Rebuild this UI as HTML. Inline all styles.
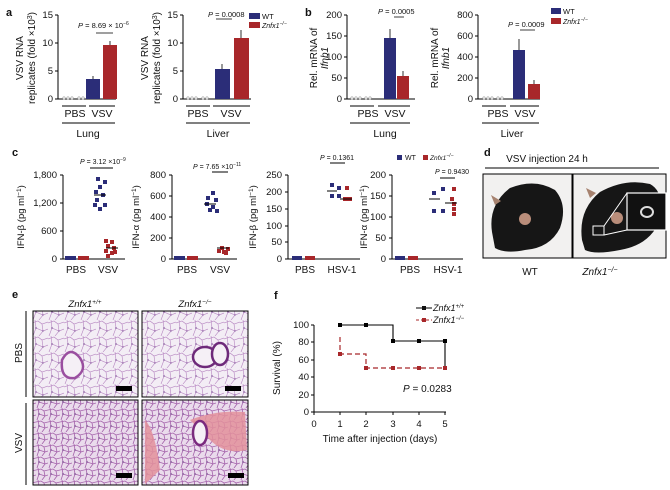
<!DOCTYPE html>
<html><head><meta charset="utf-8"><style>
body{margin:0;background:#fff}
svg{display:block;font-family:"Liberation Sans",Arial,sans-serif}
</style></head><body>
<svg width="670" height="490" viewBox="0 0 670 490" xmlns="http://www.w3.org/2000/svg">
<defs>
<pattern id="lung" width="16" height="16" patternUnits="userSpaceOnUse">
<rect width="16" height="16" fill="#f3edf5"/>
<path d="M0 3 L6 1 L10 4 L16 2 M3 0 L4 8 L1 16 M10 4 L11 11 L7 16 M4 8 L11 11 L16 9" stroke="#b583c0" stroke-width="0.6" fill="none"/>
<circle cx="4" cy="8" r="0.7" fill="#6a3a88"/><circle cx="11" cy="11" r="0.6" fill="#6a3a88"/>
</pattern>
<pattern id="lung2" width="12" height="12" patternUnits="userSpaceOnUse">
<rect width="12" height="12" fill="#eadbec"/>
<path d="M0 2 L5 1 L8 3 L12 2 M2 0 L3 6 L1 12 M8 3 L9 8 L6 12 M3 6 L9 8 L12 7" stroke="#a462ab" stroke-width="0.8" fill="none"/>
<circle cx="3" cy="6" r="0.7" fill="#5a2a78"/>
</pattern>
</defs>
<g font-size="10" fill="#111">
<!-- ===== Panel a ===== -->
<text x="6" y="16" font-weight="bold" font-size="11">a</text>
<g stroke="#000" stroke-width="1" fill="none">
<path d="M58 15 V99 H116"/><path d="M55 15H58M55 43H58M55 71H58M55 99H58"/>
<path d="M183 15 V99 H251"/><path d="M180 15H183M180 43H183M180 71H183M180 99H183"/>
<path d="M62 106H86M89 106H115M62 123H115"/>
<path d="M186 106H210M213 106H250M186 123H250"/>
</g>
<g font-size="9.5" text-anchor="end"><text x="53" y="18">15</text><text x="53" y="46">10</text><text x="53" y="74">5</text><text x="53" y="102">0</text>
<text x="178" y="18">15</text><text x="178" y="46">10</text><text x="178" y="74">5</text><text x="178" y="102">0</text></g>
<rect x="86" y="79" width="14" height="20" fill="#2b2d78"/><rect x="103" y="45" width="14" height="54" fill="#a8272a"/>
<rect x="215" y="69" width="15" height="30" fill="#2b2d78"/><rect x="234" y="38" width="15" height="61" fill="#a8272a"/>
<g stroke="#000" stroke-width="0.8"><path d="M93 79V76M110 45V41M222 69V64M241 38V30"/></g>
<g fill="#ddd" stroke="#999" stroke-width="0.4"><circle cx="64" cy="98" r="1.4"/><circle cx="68" cy="98" r="1.4"/><circle cx="72" cy="98" r="1.4"/><circle cx="79" cy="98" r="1.4"/><circle cx="83" cy="98" r="1.4"/>
<circle cx="188" cy="98" r="1.4"/><circle cx="192" cy="98" r="1.4"/><circle cx="196" cy="98" r="1.4"/><circle cx="203" cy="98" r="1.4"/><circle cx="207" cy="98" r="1.4"/></g>
<g font-size="10.5" text-anchor="middle"><text x="75" y="117">PBS</text><text x="102" y="117">VSV</text><text x="88" y="137">Lung</text>
<text x="198" y="117">PBS</text><text x="231" y="117">VSV</text><text x="218" y="137">Liver</text></g>
<text transform="translate(23,58) rotate(-90)" text-anchor="middle" font-size="10">VSV RNA</text>
<text transform="translate(35,58) rotate(-90)" text-anchor="middle" font-size="10">replicates (fold ×10<tspan dy="-3" font-size="7">3</tspan><tspan dy="3">)</tspan></text>
<text transform="translate(148,58) rotate(-90)" text-anchor="middle" font-size="10">VSV RNA</text>
<text transform="translate(160,58) rotate(-90)" text-anchor="middle" font-size="10">replicates (fold ×10<tspan dy="-3" font-size="7">3</tspan><tspan dy="3">)</tspan></text>
<text x="78" y="28" font-size="7.5"><tspan font-style="italic">P</tspan> = 8.69 × 10<tspan dy="-3" font-size="5">−6</tspan></text>
<path d="M96 33H113M216 19H232" stroke="#000" stroke-width="0.8"/>
<text x="208" y="17" font-size="7.5"><tspan font-style="italic">P</tspan> = 0.0008</text>
<rect x="249" y="13" width="11" height="6" fill="#2b2d78"/><text x="262" y="19" font-size="7.5">WT</text>
<rect x="249" y="22" width="11" height="6" fill="#a8272a"/><text x="262" y="28" font-size="7" font-style="italic">Znfx1<tspan dy="-3" font-size="5">−/−</tspan></text>

<!-- ===== Panel b ===== -->
<text x="305" y="16" font-weight="bold" font-size="11">b</text>
<g stroke="#000" stroke-width="1" fill="none">
<path d="M347 15V99H415"/><path d="M344 15H347M344 36H347M344 57H347M344 78H347M344 99H347"/>
<path d="M478 15V99H540"/><path d="M475 15H478M475 36H478M475 57H478M475 78H478M475 99H478"/>
<path d="M350 106H374M378 106H410M350 123H410"/>
<path d="M482 106H506M510 106H539M482 123H539"/>
</g>
<g font-size="9.5" text-anchor="end"><text x="342" y="18">200</text><text x="342" y="39">150</text><text x="342" y="60">100</text><text x="342" y="81">50</text><text x="342" y="102">0</text>
<text x="473" y="18">800</text><text x="473" y="39">600</text><text x="473" y="60">400</text><text x="473" y="81">200</text><text x="473" y="102">0</text></g>
<rect x="384" y="38" width="12" height="61" fill="#2b2d78"/><rect x="397" y="76" width="12" height="23" fill="#a8272a"/>
<rect x="513" y="50" width="12" height="49" fill="#2b2d78"/><rect x="528" y="84" width="12" height="15" fill="#a8272a"/>
<g stroke="#000" stroke-width="0.8"><path d="M390 38V29M403 76V71M519 50V39M534 84V80"/></g>
<g fill="#ddd" stroke="#999" stroke-width="0.4"><circle cx="352" cy="98" r="1.4"/><circle cx="356" cy="98" r="1.4"/><circle cx="360" cy="98" r="1.4"/><circle cx="366" cy="98" r="1.4"/><circle cx="370" cy="98" r="1.4"/>
<circle cx="484" cy="98" r="1.4"/><circle cx="488" cy="98" r="1.4"/><circle cx="492" cy="98" r="1.4"/><circle cx="498" cy="98" r="1.4"/><circle cx="502" cy="98" r="1.4"/></g>
<g font-size="10.5" text-anchor="middle"><text x="368" y="117">PBS</text><text x="395" y="117">VSV</text><text x="385" y="137">Lung</text>
<text x="498" y="117">PBS</text><text x="525" y="117">VSV</text><text x="512" y="137">Liver</text></g>
<text transform="translate(317,58) rotate(-90)" text-anchor="middle">Rel. mRNA of</text>
<text transform="translate(328,58) rotate(-90)" text-anchor="middle" font-style="italic">Ifnb1</text>
<text transform="translate(438,58) rotate(-90)" text-anchor="middle">Rel. mRNA of</text>
<text transform="translate(449,58) rotate(-90)" text-anchor="middle" font-style="italic">Ifnb1</text>
<text x="378" y="14" font-size="7.5"><tspan font-style="italic">P</tspan> = 0.0005</text>
<text x="508" y="27" font-size="7.5"><tspan font-style="italic">P</tspan> = 0.0009</text>
<path d="M394 17H404M520 30H535" stroke="#000" stroke-width="0.8"/>
<rect x="551" y="8" width="10" height="6" fill="#2b2d78"/><text x="563" y="14" font-size="7.5">WT</text>
<rect x="551" y="18" width="10" height="6" fill="#a8272a"/><text x="563" y="24" font-size="7" font-style="italic">Znfx1<tspan dy="-3" font-size="5">−/−</tspan></text>

<!-- ===== Panel c ===== -->
<text x="12" y="156" font-weight="bold" font-size="11">c</text>
<g stroke="#000" stroke-width="1" fill="none">
<path d="M63 175V259H125"/><path d="M60 175H63M60 203H63M60 231H63M60 259H63"/>
<path d="M172 175V259H237"/><path d="M169 175H172M169 196H172M169 217H172M169 238H172M169 259H172"/>
<path d="M288 175V259H360"/><path d="M285 175H288M285 192H288M285 209H288M285 226H288M285 242H288M285 259H288"/>
<path d="M392 175V259H463"/><path d="M389 175H392M389 196H392M389 217H392M389 238H392M389 259H392"/>
</g>
<g font-size="9.5" text-anchor="end">
<text x="57" y="178">1,800</text><text x="57" y="206">1,200</text><text x="57" y="234">600</text><text x="57" y="262">0</text>
<text x="166" y="178">800</text><text x="166" y="199">600</text><text x="166" y="220">400</text><text x="166" y="241">200</text><text x="166" y="262">0</text>
<text x="282" y="178">250</text><text x="282" y="195">200</text><text x="282" y="212">150</text><text x="282" y="229">100</text><text x="282" y="245">50</text><text x="282" y="262">0</text>
<text x="386" y="178">200</text><text x="386" y="199">150</text><text x="386" y="220">100</text><text x="386" y="241">50</text><text x="386" y="262">0</text></g>
<g font-size="10" text-anchor="middle"><text x="76" y="273">PBS</text><text x="108" y="273">VSV</text>
<text x="187" y="273">PBS</text><text x="220" y="273">VSV</text>
<text x="305" y="273">PBS</text><text x="342" y="273">HSV-1</text>
<text x="410" y="273">PBS</text><text x="448" y="273">HSV-1</text></g>
<g font-size="9.5" text-anchor="middle">
<text transform="translate(24,217) rotate(-90)">IFN-β (pg ml<tspan dy="-3" font-size="6.5">−1</tspan><tspan dy="3">)</tspan></text>
<text transform="translate(139,217) rotate(-90)">IFN-α (pg ml<tspan dy="-3" font-size="6.5">−1</tspan><tspan dy="3">)</tspan></text>
<text transform="translate(256,217) rotate(-90)">IFN-β (pg ml<tspan dy="-3" font-size="6.5">−1</tspan><tspan dy="3">)</tspan></text>
<text transform="translate(367,217) rotate(-90)">IFN-α (pg ml<tspan dy="-3" font-size="6.5">−1</tspan><tspan dy="3">)</tspan></text></g>
<g fill="#2b2d78">
<rect x="65" y="256" width="11" height="4"/><rect x="174" y="256" width="11" height="4"/><rect x="292" y="256" width="10" height="4"/><rect x="395" y="256" width="10" height="4"/>
<rect x="96" y="177" width="4" height="4"/><rect x="103" y="180" width="4" height="4"/><rect x="98" y="185" width="4" height="4"/><rect x="94" y="190" width="4" height="4"/><rect x="101" y="193" width="4" height="4"/><rect x="95" y="198" width="4" height="4"/><rect x="103" y="203" width="4" height="4"/><rect x="98" y="207" width="4" height="4"/><rect x="93" y="203" width="4" height="4"/>
<rect x="211" y="191" width="4" height="4"/><rect x="206" y="196" width="4" height="4"/><rect x="214" y="198" width="4" height="4"/><rect x="205" y="202" width="4" height="4"/><rect x="211" y="205" width="4" height="4"/><rect x="208" y="208" width="4" height="4"/><rect x="215" y="209" width="4" height="4"/>
<rect x="330" y="183" width="4" height="4"/><rect x="337" y="186" width="4" height="4"/><rect x="330" y="194" width="4" height="4"/><rect x="337" y="194" width="4" height="4"/>
<rect x="432" y="191" width="4" height="4"/><rect x="441" y="187" width="4" height="4"/><rect x="432" y="209" width="4" height="4"/><rect x="441" y="209" width="4" height="4"/>
</g>
<g fill="#a8272a">
<rect x="78" y="256" width="11" height="4"/><rect x="187" y="256" width="11" height="4"/><rect x="305" y="256" width="10" height="4"/><rect x="408" y="256" width="10" height="4"/>
<rect x="104" y="239" width="4" height="4"/><rect x="110" y="240" width="4" height="4"/><rect x="106" y="244" width="4" height="4"/><rect x="112" y="246" width="4" height="4"/><rect x="104" y="249" width="4" height="4"/><rect x="110" y="251" width="4" height="4"/><rect x="106" y="254" width="4" height="4"/><rect x="113" y="250" width="4" height="4"/>
<rect x="220" y="246" width="4" height="4"/><rect x="226" y="247" width="4" height="4"/><rect x="222" y="250" width="4" height="4"/><rect x="217" y="249" width="4" height="4"/><rect x="224" y="251" width="4" height="4"/>
<rect x="345" y="186" width="4" height="4"/><rect x="343" y="197" width="4" height="4"/><rect x="348" y="197" width="4" height="4"/><rect x="345" y="197" width="4" height="4"/>
<rect x="452" y="187" width="4" height="4"/><rect x="450" y="197" width="4" height="4"/><rect x="452" y="202" width="4" height="4"/><rect x="452" y="207" width="4" height="4"/><rect x="452" y="212" width="4" height="4"/>
</g>
<g stroke="#000" stroke-width="0.9"><path d="M94 195H106M106 248H118M204 204H216M217 248H229M327 191H337M340 199H352M429 199H440M445 203H457"/>
<path d="M90 168H113M212 172H228M330 163H345M440 178H455"/></g>
<g font-size="7"><text x="80" y="164"><tspan font-style="italic">P</tspan> = 3.12 ×10<tspan dy="-3" font-size="5">−9</tspan></text>
<text x="193" y="169"><tspan font-style="italic">P</tspan> = 7.65 ×10<tspan dy="-3" font-size="5">−11</tspan></text>
<text x="320" y="160"><tspan font-style="italic">P</tspan> = 0.1361</text>
<text x="435" y="174"><tspan font-style="italic">P</tspan> = 0.9430</text></g>
<rect x="397" y="155" width="5" height="5" fill="#2b2d78"/><text x="405" y="160" font-size="7">WT</text>
<rect x="423" y="155" width="5" height="5" fill="#a8272a"/><text x="430" y="160" font-size="6.5" font-style="italic">Znfx1<tspan dy="-3" font-size="5">−/−</tspan></text>

<!-- ===== Panel d ===== -->
<text x="484" y="156" font-weight="bold" font-size="11">d</text>
<text x="547" y="162" text-anchor="middle" font-size="10">VSV injection 24 h</text>
<path d="M485 168H659" stroke="#000"/>
<rect x="483" y="174" width="89" height="84" fill="#f2f1f0" stroke="#000"/>
<rect x="573" y="174" width="93" height="84" fill="#f1f0ef" stroke="#000"/>
<path d="M492 232 Q488 205 510 188 Q535 178 555 190 Q568 205 560 228 Q550 248 525 250 Q505 254 495 248Z" fill="#161616"/>
<circle cx="525" cy="219" r="6" fill="#b98d7a"/><path d="M495 205 l-4 -10 l10 6Z" fill="#a6826f"/>
<path d="M582 240 Q578 210 600 192 Q625 178 650 184 Q665 192 660 220 Q650 245 620 250 Q595 255 585 250Z" fill="#161616"/>
<circle cx="617" cy="218" r="6" fill="#b98d7a"/><path d="M590 198 l-4 -10 l10 5Z" fill="#a6826f"/>
<rect x="593" y="226" width="11" height="9" fill="none" stroke="#fff" stroke-width="1"/>
<rect x="627" y="193" width="39" height="37" fill="#111" stroke="#fff" stroke-width="1.2"/>
<ellipse cx="647" cy="212" rx="6" ry="5" fill="none" stroke="#ddd" stroke-width="2"/>
<path d="M604 226L627 193M604 235L627 230" stroke="#fff" stroke-width="1"/>
<text x="530" y="275" text-anchor="middle">WT</text>
<text x="600" y="275" text-anchor="middle" font-style="italic">Znfx1<tspan dy="-3" font-size="7">−/−</tspan></text>

<!-- ===== Panel e ===== -->
<text x="12" y="298" font-weight="bold" font-size="11">e</text>
<text x="85" y="307" text-anchor="middle" font-style="italic" font-size="9.5">Znfx1<tspan dy="-3" font-size="6.5">+/+</tspan></text>
<text x="195" y="307" text-anchor="middle" font-style="italic" font-size="9.5">Znfx1<tspan dy="-3" font-size="6.5">−/−</tspan></text>
<rect x="33" y="311" width="105" height="86" fill="url(#lung)" stroke="#000"/>
<rect x="142" y="311" width="106" height="86" fill="url(#lung)" stroke="#000"/>
<rect x="33" y="400" width="105" height="85" fill="url(#lung2)" stroke="#000"/>
<rect x="142" y="400" width="106" height="85" fill="url(#lung2)" stroke="#000"/>
<path d="M62 360 Q70 345 80 358 Q88 370 75 378 Q60 380 62 360Z" fill="#f5f0f6" stroke="#9a4fa0" stroke-width="2.5"/>
<ellipse cx="205" cy="357" rx="12" ry="10" fill="#f5f0f6" stroke="#6e2a7a" stroke-width="2.5"/><ellipse cx="220" cy="354" rx="8" ry="11" fill="#f5f0f6" stroke="#6e2a7a" stroke-width="2.5"/>
<path d="M190 420 Q215 410 245 412 L247 450 Q225 455 210 440Z" fill="#e3909b" opacity="0.85"/>
<path d="M145 420 Q155 430 160 470 L145 484Z" fill="#e3909b" opacity="0.85"/>
<ellipse cx="200" cy="433" rx="7" ry="12" fill="#f5f0f6" stroke="#7a2a7e" stroke-width="2.5"/>
<rect x="116" y="386" width="16" height="5" fill="#000"/><rect x="225" y="386" width="16" height="5" fill="#000"/>
<rect x="116" y="473" width="16" height="5" fill="#000"/><rect x="228" y="473" width="16" height="5" fill="#000"/>
<path d="M26 311V397M26 403V485" stroke="#000"/>
<text transform="translate(22,353) rotate(-90)" text-anchor="middle">PBS</text>
<text transform="translate(22,443) rotate(-90)" text-anchor="middle">VSV</text>

<!-- ===== Panel f ===== -->
<text x="274" y="299" font-weight="bold" font-size="11">f</text>
<g stroke="#000" stroke-width="1" fill="none">
<path d="M314 325V412H446"/>
<path d="M311 325H314M311 342H314M311 360H314M311 377H314M311 395H314M311 412H314"/>
<path d="M314 412V415M340 412V415M366 412V415M393 412V415M419 412V415M445 412V415"/>
</g>
<g font-size="9.5" text-anchor="end"><text x="309" y="328">100</text><text x="309" y="345">80</text><text x="309" y="363">60</text><text x="309" y="380">40</text><text x="309" y="398">20</text><text x="309" y="415">0</text></g>
<g font-size="9.5" text-anchor="middle"><text x="314" y="427">0</text><text x="340" y="427">1</text><text x="366" y="427">2</text><text x="393" y="427">3</text><text x="419" y="427">4</text><text x="445" y="427">5</text></g>
<text x="380" y="442" text-anchor="middle">Time after injection (days)</text>
<text transform="translate(280,368) rotate(-90)" text-anchor="middle">Survival (%)</text>
<path d="M340 337V354H366V368H445" stroke="#a8272a" stroke-width="1.2" fill="none" stroke-dasharray="5,3"/>
<path d="M340 325H393V341H445V368" stroke="#000" stroke-width="1.1" fill="none"/>
<g fill="#000"><rect x="338" y="323" width="4" height="4"/><rect x="364" y="323" width="4" height="4"/><rect x="391" y="339" width="4" height="4"/><rect x="417" y="339" width="4" height="4"/><rect x="443" y="339" width="4" height="4"/></g>
<g fill="#a8272a"><rect x="338" y="352" width="4" height="4"/><rect x="364" y="366" width="4" height="4"/><rect x="391" y="366" width="4" height="4"/><rect x="417" y="366" width="4" height="4"/><rect x="443" y="366" width="4" height="4"/></g>
<path d="M416 308H432" stroke="#000"/><rect x="422" y="306" width="4" height="4"/>
<path d="M416 320H432" stroke="#a8272a" stroke-dasharray="3,2"/><rect x="422" y="318" width="4" height="4" fill="#a8272a"/>
<text x="433" y="311" font-style="italic" font-size="9">Znfx1<tspan dy="-3" font-size="6">+/+</tspan></text>
<text x="433" y="323" font-style="italic" font-size="9">Znfx1<tspan dy="-3" font-size="6">−/−</tspan></text>
<text x="403" y="392"><tspan font-style="italic">P</tspan> = 0.0283</text>
</g>
</svg>
</body></html>
